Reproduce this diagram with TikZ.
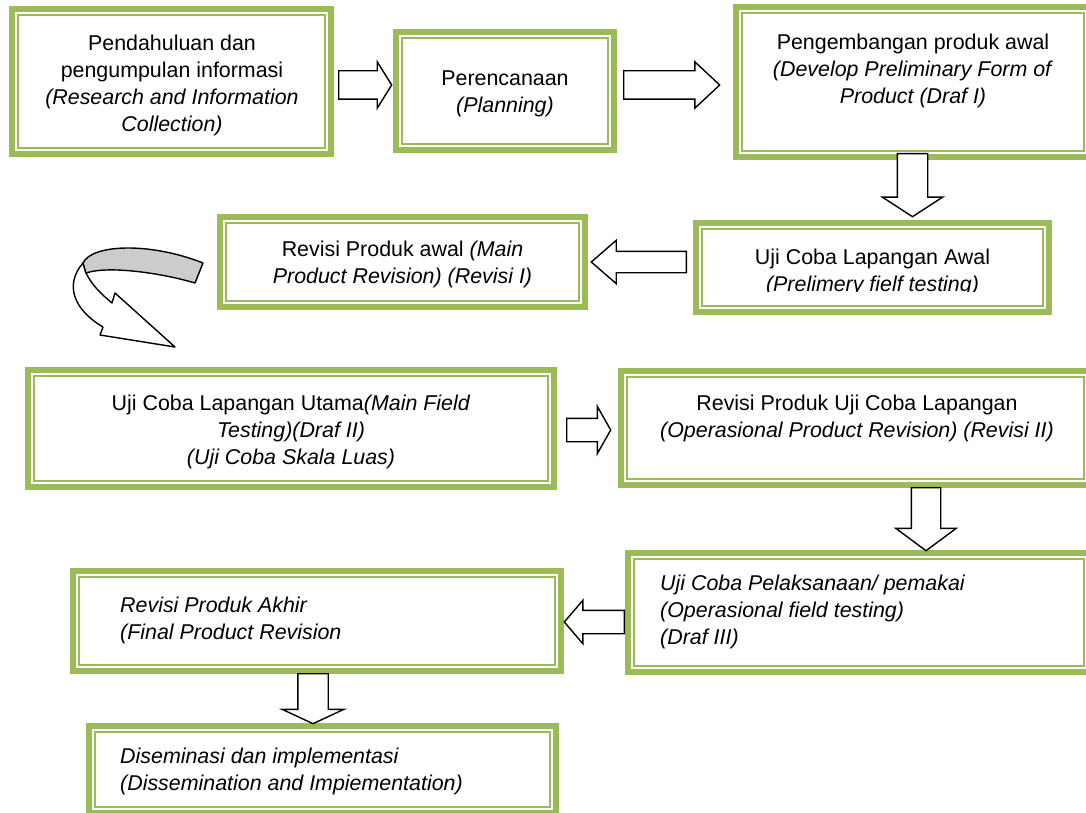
\documentclass[tikz,border=0pt]{standalone}
\usepackage{fontspec}
\setmainfont{Liberation Sans}
\usetikzlibrary{positioning,shapes.arrows}
\definecolor{hijau}{RGB}{155,187,89}
\definecolor{abu}{RGB}{204,204,204}

\begin{document}
\begin{tikzpicture}
    [
        x=1pt, y=-1pt,
        tahap/.style={draw=hijau, line width=6pt, inner sep=0pt, outer sep=0pt,
            path picture={\draw[hijau, line width=2pt]
                ([shift={(6pt,-6pt)}]path picture bounding box.north west) rectangle
                ([shift={(-6pt,6pt)}]path picture bounding box.south east);}},
        teks/.style={align=center, inner sep=0pt, font=\fontsize{21.4}{27}\selectfont},
        tekskiri/.style={align=left, anchor=west, inner sep=0pt, font=\fontsize{21.4}{27}\selectfont\itshape},
        panah/.style={single arrow, draw=black, fill=white, line width=1.4pt, inner xsep=0pt, anchor=tail},
    ]
    \useasboundingbox (0,0) rectangle (1086,813);
    %kotak tahapan
    \node[tahap, minimum width=319, minimum height=145] (b1) at (171.5,81.5) {};
    \node[tahap, minimum width=218, minimum height=118] (b2) at (505,91) {};
    \node[tahap, minimum width=354, minimum height=150] (b3) at (913,82) {};
    \node[tahap, minimum width=353, minimum height=89] (b4) at (872.5,267.5) {};
    \node[tahap, minimum width=365, minimum height=90] (b5) at (402.5,262) {};
    \node[tahap, minimum width=526, minimum height=117] (b6) at (291,428.5) {};
    \node[tahap, minimum width=469, minimum height=114] (b7) at (855.5,428) {};
    \node[tahap, minimum width=462, minimum height=119] (b8) at (859,612.5) {};
    \node[tahap, minimum width=488, minimum height=100] (b9) at (317,621) {};
    \node[tahap, minimum width=467, minimum height=87] (b10) at (322.5,769.5) {};
    %teks
    \node[teks] (t1) at (172,85) {Pendahuluan dan\\pengumpulan informasi\\\textit{(Research and Information}\\\textit{Collection)}};
    \node[teks] (t2) at (505,94) {Perencanaan\\\textit{(Planning)}};
    \node[teks] (t3) at (913,71) {Pengembangan produk awal\\\textit{(Develop Preliminary Form of}\\\textit{Product (Draf I)}};
    \begin{scope}
        \clip (693,220) rectangle (1052,291);
        \node[teks] (t4) at (872.5,272) {Uji Coba Lapangan Awal\\\textit{(Prelimery fielf testing)}};
    \end{scope}
    \node[teks] (t5) at (402.5,264) {Revisi Produk awal \textit{(Main}\\\textit{Product Revision) (Revisi I)}};
    \node[teks] (t6) at (291,432) {Uji Coba Lapangan Utama\textit{(Main Field}\\\textit{Testing)(Draf II)}\\\textit{(Uji Coba Skala Luas)}};
    \node[teks] (t7) at (857,418) {Revisi Produk Uji Coba Lapangan\\\textit{(Operasional Product Revision) (Revisi II)}};
    \node[tekskiri] (t8) at (660,612) {Uji Coba Pelaksanaan/ pemakai\\(Operasional field testing)\\(Draf III)};
    \node[tekskiri] (t9) at (120,620) {Revisi Produk Akhir\\(Final Product Revision};
    \node[tekskiri] (t10) at (120,771) {Diseminasi dan implementasi\\(Dissemination and Impiementation)};
    %panah blok
    \node[panah, minimum height=53, inner ysep=13.5, single arrow head extend=9, single arrow tip angle=116] (p1) at (338,85) {};
    \node[panah, minimum height=96, inner ysep=13.5, single arrow head extend=9, single arrow tip angle=86] (p2) at (623,85) {};
    \node[panah, rotate=-90, minimum height=63, inner ysep=14.5, single arrow head extend=15, single arrow tip angle=114] (p3) at (912.5,153) {};
    \node[panah, rotate=180, minimum height=95, inner ysep=10, single arrow head extend=11, single arrow tip angle=82] (p4) at (687,262) {};
    \node[panah, minimum height=44, inner ysep=11, single arrow head extend=12, single arrow tip angle=121] (p5) at (566,430) {};
    \node[panah, rotate=-90, minimum height=63, inner ysep=14, single arrow head extend=15.5, single arrow tip angle=107] (p6) at (926,487) {};
    \node[panah, rotate=180, minimum height=60, inner ysep=11, single arrow head extend=10, single arrow tip angle=99] (p7) at (625,622) {};
    \node[panah, rotate=-90, minimum height=50, inner ysep=14.5, single arrow head extend=15.5, single arrow tip angle=130] (p8) at (313,673) {};
    %panah lengkung
    \draw[line width=1.4pt, fill=white, line join=round] (86,273) .. controls (92,285) and (100,293) .. (112,303)
        -- (115,293) -- (175,347) -- (100,335) -- (103,327) .. controls (74,310) and (64,285) .. (83,263) -- cycle;
    \draw[line width=1.4pt, fill=abu, line join=round] (83,263) .. controls (92,244) and (150,242) .. (203,263)
        -- (195,283) .. controls (165,274) and (110,265) .. (86,273) -- cycle;
\end{tikzpicture}
\end{document}
